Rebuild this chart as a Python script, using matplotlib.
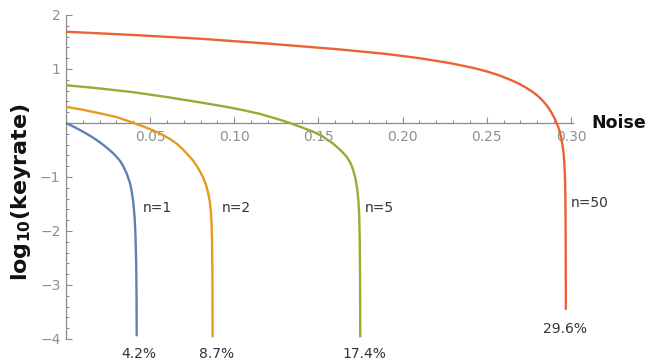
import matplotlib
matplotlib.use("Agg")
import matplotlib.pyplot as plt
from matplotlib.ticker import MultipleLocator, FixedLocator

# Noise level vs log10 of the key rate, for several values of n
noise_n1 = [0.0, 0.004, 0.008, 0.012, 0.016, 0.020, 0.024, 0.028, 0.031, 0.0325,
            0.034, 0.036, 0.038, 0.039, 0.040, 0.0408, 0.0413, 0.0417, 0.0419, 0.0420]
rate_n1 = [0.0, -0.06, -0.125, -0.195, -0.27, -0.355, -0.45, -0.56, -0.66, -0.72,
           -0.80, -0.93, -1.11, -1.26, -1.47, -1.76, -2.10, -2.60, -3.20, -3.95]

noise_n2 = [0.0, 0.010, 0.020, 0.030, 0.038, 0.046, 0.052, 0.0575, 0.062, 0.066,
            0.0695, 0.0725, 0.0756, 0.0780, 0.0800, 0.0815, 0.0830, 0.0845, 0.0855,
            0.0861, 0.0865, 0.0868, 0.0870, 0.0871]
rate_n2 = [0.30, 0.245, 0.18, 0.11, 0.025, -0.065, -0.14, -0.22, -0.30, -0.39,
           -0.49, -0.59, -0.70, -0.81, -0.92, -1.01, -1.13, -1.30, -1.47,
           -1.65, -1.88, -2.25, -2.90, -3.97]

noise_n5 = [0.0, 0.020, 0.040, 0.060, 0.080, 0.095, 0.105, 0.115, 0.125, 0.133,
            0.140, 0.146, 0.152, 0.1586, 0.1630, 0.1666, 0.1690, 0.1705, 0.1720,
            0.1730, 0.1737, 0.1742, 0.1745, 0.1747, 0.1748]
rate_n5 = [0.70, 0.64, 0.57, 0.48, 0.38, 0.30, 0.24, 0.17, 0.08, 0.0,
           -0.08, -0.15, -0.24, -0.38, -0.50, -0.62, -0.74, -0.86, -1.03,
           -1.22, -1.44, -1.72, -2.15, -2.90, -3.97]

noise_n50 = [0.0, 0.040, 0.080, 0.120, 0.160, 0.190, 0.210, 0.228, 0.242, 0.250,
             0.2576, 0.264, 0.269, 0.273, 0.277, 0.280, 0.283, 0.2855, 0.2875,
             0.289, 0.2905, 0.2915, 0.2925, 0.2935, 0.2943, 0.2950, 0.2956, 0.2960,
             0.2963, 0.2965, 0.2967, 0.2968, 0.2969, 0.29695]
rate_n50 = [1.69, 1.63, 1.56, 1.47, 1.37, 1.28, 1.20, 1.11, 1.02, 0.955,
            0.88, 0.80, 0.73, 0.66, 0.58, 0.51, 0.42, 0.33, 0.24,
            0.16, 0.07, 0.0, -0.08, -0.18, -0.29, -0.42, -0.56, -0.72,
            -0.90, -1.10, -1.45, -1.90, -2.70, -3.46]

curve_labels = ["n=1", "n=2", "n=5", "n=50"]
threshold_labels = ["4.2%", "8.7%", "17.4%", "29.6%"]
x_tick_values = [0.05, 0.10, 0.15, 0.20, 0.25, 0.30]
x_tick_labels = ["0.05", "0.10", "0.15", "0.20", "0.25", "0.30"]
y_tick_values = [-4, -3, -2, -1, 1, 2]
y_tick_labels = ["\u22124", "\u22123", "\u22122", "\u22121", "1", "2"]

colors = ["#5E81B5", "#E19C24", "#8FB032", "#EB6235"]
axis_gray = "#8c8c8c"

fig = plt.figure(figsize=(6.48, 3.64), dpi=100)
ax = fig.add_axes([66 / 648, 1 - 339 / 364, (573 - 66) / 648, (339 - 15) / 364])

series = [(noise_n1, rate_n1), (noise_n2, rate_n2), (noise_n5, rate_n5), (noise_n50, rate_n50)]
for (xs, ys), c in zip(series, colors):
    ax.plot(xs, ys, color=c, lw=1.7, solid_capstyle="butt", solid_joinstyle="round",
            zorder=3)

ax.set_xlim(0, 0.3012)
ax.set_ylim(-4, 2)

# Axes crossing at the origin
for side in ("top", "right"):
    ax.spines[side].set_visible(False)
ax.spines["bottom"].set_position(("data", 0))
ax.spines["left"].set_position(("data", 0))
for side in ("bottom", "left"):
    ax.spines[side].set_color(axis_gray)
    ax.spines[side].set_linewidth(0.9)

ax.xaxis.set_major_locator(FixedLocator(x_tick_values))
ax.set_xticklabels(x_tick_labels)
ax.xaxis.set_minor_locator(MultipleLocator(0.01))
ax.yaxis.set_major_locator(FixedLocator(y_tick_values))
ax.set_yticklabels(y_tick_labels)
ax.yaxis.set_minor_locator(MultipleLocator(0.2))

ax.tick_params(axis="both", which="major", direction="in", length=4.5, width=0.8,
               color=axis_gray, labelcolor="#8f8f8f", labelsize=10)
ax.tick_params(axis="both", which="minor", direction="in", length=2.5, width=0.7,
               color=axis_gray)
ax.tick_params(axis="x", which="major", pad=5)
ax.tick_params(axis="y", which="major", pad=4)

# Curve names and threshold percentages
name_pos = [(0.0455, -1.57), (0.0925, -1.57), (0.1775, -1.57), (0.3000, -1.48)]
for (x, y), txt in zip(name_pos, curve_labels):
    ax.text(x, y, txt, color="#333333", fontsize=10, ha="left", va="center")

pct_pos = [(0.0435, -4.28), (0.0895, -4.28), (0.1770, -4.28), (0.2962, -3.82)]
for (x, y), txt in zip(pct_pos, threshold_labels):
    ax.text(x, y, txt, color="#333333", fontsize=10, ha="center", va="center",
            clip_on=False)

fig.text(591 / 648, 1 - 123 / 364, "Noise", fontsize=12.5, fontweight="bold",
         ha="left", va="center", color="#111111")
fig.text(21 / 648, 1 - 192 / 364, r"log$_{\mathbf{10}}$(keyrate)", fontsize=16,
         fontweight="bold", rotation=90, ha="center", va="center", color="#111111")

fig.savefig("out.png", dpi=100)
